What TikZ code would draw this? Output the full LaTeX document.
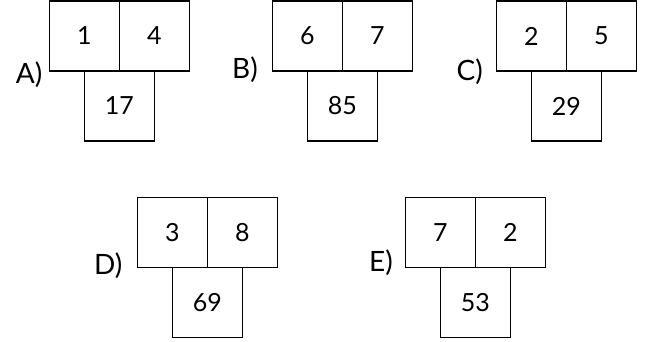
\documentclass[tikz,border=0pt]{standalone}
\usepackage{fontspec}
\setmainfont{Lato}
\usepackage{tikz}
\usetikzlibrary{positioning, calc}

\begin{document}
\begin{tikzpicture}[
    x=1pt, y=-1pt,
    cell/.style={rectangle, draw, line width=1.5pt, minimum size=70pt, inner sep=0pt, outer sep=0pt, font=\fontsize{25}{27}\selectfont},
    lbl/.style={anchor=east, inner sep=0pt, font=\fontsize{28}{30}\selectfont}
]
    \useasboundingbox (0,0) rectangle (656,341);

    % A
    \node[cell] (a1) at (84.3,36) {1};
    \node[cell, right=0pt of a1] (a2) {4};
    \node[cell, below=0pt of $(a1.south)!0.5!(a2.south)$] (a3) {17};
    \node[lbl] (la) at (42.5,75) {A)};

    % B
    \node[cell] (b1) at (307.3,36) {6};
    \node[cell, right=0pt of b1] (b2) {7};
    \node[cell, below=0pt of $(b1.south)!0.5!(b2.south)$] (b3) {85};
    \node[lbl] (lb) at (258,70) {B)};

    % C
    \node[cell] (c1) at (531.3,36) {2};
    \node[cell, right=0pt of c1] (c2) {5};
    \node[cell, below=0pt of $(c1.south)!0.5!(c2.south)$] (c3) {29};
    \node[lbl] (lc) at (483,72) {C)};

    % D
    \node[cell] (d1) at (172.3,232.3) {3};
    \node[cell, right=0pt of d1] (d2) {8};
    \node[cell, below=0pt of $(d1.south)!0.5!(d2.south)$] (d3) {69};
    \node[lbl] (ld) at (122.5,266) {D)};

    % E
    \node[cell] (e1) at (440.3,232.3) {7};
    \node[cell, right=0pt of e1] (e2) {2};
    \node[cell, below=0pt of $(e1.south)!0.5!(e2.south)$] (e3) {53};
    \node[lbl] (le) at (393,263) {E)};
\end{tikzpicture}
\end{document}
